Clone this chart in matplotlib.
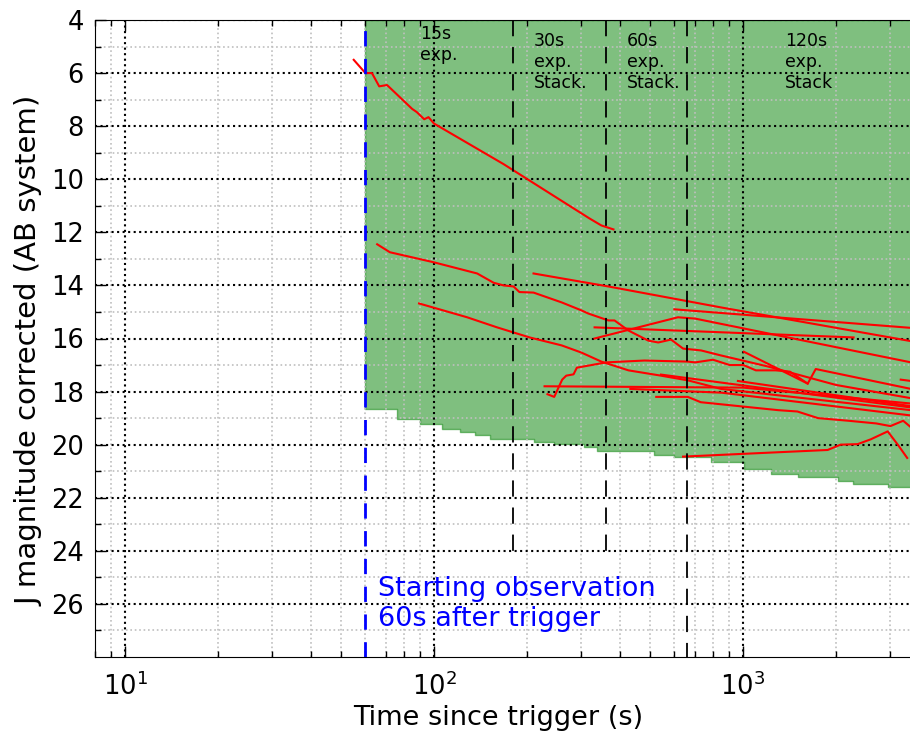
import matplotlib
matplotlib.use("Agg")
import numpy as np
import matplotlib.pyplot as plt

# limiting magnitude steps (start time in s, J mag)
lim_t = [60, 76, 90, 106, 121, 136, 152, 210, 244, 305, 336, 516, 599, 788,
         1007, 1231, 1504, 2024, 2278, 2937, 4000]
lim_mag = [18.65, 19.03, 19.22, 19.41, 19.53, 19.63, 19.79, 19.91, 19.97, 20.1,
           20.24, 20.38, 20.48, 20.67, 20.92, 21.1, 21.23, 21.36, 21.48, 21.6, 21.6]

# light curves (time s, J mag)
curves = [
    ([55, 60, 63, 66.5, 70.5, 85, 88, 93, 96, 100, 168, 318, 348, 381],
     [5.5, 6.0, 6.0, 6.5, 6.45, 7.35, 7.47, 7.74, 7.66, 7.9, 9.43, 11.47, 11.74, 11.89]),
    ([65.5, 72, 100, 138, 156, 168, 181, 189, 210, 259, 300, 316, 367, 384, 426,
      494, 532, 585, 640, 732, 850, 1200, 2000, 3500],
     [12.45, 12.75, 13.13, 13.55, 13.9, 14.0, 14.04, 14.25, 14.27, 14.64, 14.94,
      15.06, 15.32, 15.32, 15.7, 16.08, 16.15, 16.04, 16.38, 16.45, 16.64, 17.05,
      17.75, 18.25]),
    ([89.5, 128, 160, 204, 259, 300, 348, 426, 543, 665, 850, 3500],
     [14.68, 15.2, 15.58, 15.96, 16.26, 16.53, 16.87, 17.2, 17.4, 17.58, 17.9, 18.7]),
    ([210, 367, 850, 3500], [13.55, 14.04, 14.83, 16.1]),
    ([600, 3500], [14.9, 15.6]),
    ([331, 2280], [15.58, 15.96]),
    ([331, 616, 700, 3500], [16.0, 15.2, 15.25, 16.9]),
    ([233, 245, 260, 268, 283, 290, 361, 480, 663, 700, 800, 906, 1003, 1101,
      1276, 1419, 1620],
     [18.1, 18.2, 17.55, 17.4, 17.35, 17.1, 16.9, 16.83, 16.87, 16.9, 16.8, 17.0,
      17.0, 17.2, 17.2, 17.25, 17.7]),
    ([1007, 1620, 1720, 3500], [16.5, 17.7, 17.15, 17.9]),
    ([228, 1000, 3500], [17.8, 17.85, 18.45]),
    ([543, 850, 3500], [17.36, 17.66, 18.6]),
    ([432, 850, 3500], [17.9, 18.04, 18.9]),
    ([524, 663, 730, 1300, 1500, 1750, 2200, 2700, 3000, 3300, 3500],
     [18.2, 18.2, 18.4, 18.7, 18.75, 19.0, 19.1, 19.2, 19.3, 19.1, 19.35]),
    ([963, 3500], [17.6, 18.55]),
    ([3240, 3500], [17.55, 17.6]),
    ([640, 1880, 2070, 2350, 2590, 2940, 3170, 3400],
     [20.45, 20.2, 20.0, 19.98, 19.8, 19.5, 20.0, 20.5]),
]

stack_t = [180, 360, 660]
stack_bottom = [24, 24, 28]
label_t = [90, 211, 422, 1368]
label_top = [4.2, 4.45, 4.45, 4.45]
labels = ["15s\nexp.", "30s\nexp.\nStack.", "60s\nexp.\nStack.", "120s\nexp.\nStack"]
start_t = 60

fig = plt.figure(figsize=(9.1, 7.34), dpi=100)
ax = fig.add_axes([95/910., 77/734., 834/910., 637/734.])

ax.fill_between(lim_t, lim_mag, 4, step='post', facecolor=(0, 0.5, 0),
                edgecolor=(0, 0.5, 0), alpha=0.5, lw=1)
for t, m in curves:
    ax.plot(t, m, color='r', lw=1.5, zorder=3)

for t, b in zip(stack_t, stack_bottom):
    ax.plot([t, t], [4, b], color='k', lw=1.3, ls=(0, (9, 6)), zorder=3)
ax.axvline(start_t, color='b', lw=2, ls=(0, (5.5, 4.5)), zorder=4)

for t, top, s in zip(label_t, label_top, labels):
    ax.text(t, top, s, fontsize=12.5, va='top', ha='left')
ax.text(66, 26, "Starting observation\n60s after trigger", color='b',
        fontsize=19.5, va='center', ha='left', linespacing=1.2)

ax.set_xscale('log')
ax.set_xlim(8, 4000)
ax.set_ylim(28, 4)
ax.set_yticks(np.arange(4, 27, 2))
ax.set_yticks(np.arange(5, 28, 2), minor=True)
ax.grid(which='major', color='k', ls=':', lw=1.5)
ax.grid(which='minor', color='0.75', ls=':', lw=1.2)
ax.tick_params(which='both', direction='in', top=True, right=True, labelsize=18.5)
ax.tick_params(which='major', length=8, width=1)
ax.tick_params(which='minor', length=4, width=1)
ax.tick_params(axis='x', pad=11)
ax.tick_params(axis='y', pad=8)
ax.set_xlabel("Time since trigger (s)", fontsize=19.5)
ax.set_ylabel("J magnitude corrected (AB system)", fontsize=21)
ax.xaxis.set_label_coords(0.483, -0.075)
ax.yaxis.set_label_coords(-0.062, 0.48)

fig.savefig("out.png", dpi=100)
